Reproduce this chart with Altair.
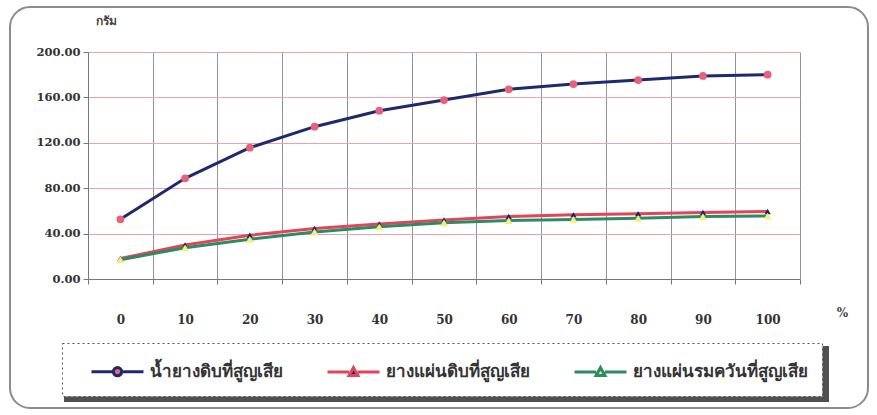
import altair as alt
import pandas as pd

# Loss of rubber (grams) against percentage
percent = ["0", "10", "20", "30", "40", "50", "60", "70", "80", "90", "100"]
latex_loss = [52.6, 88.7, 115.7, 134.2, 148.3, 157.7, 167.1, 171.8, 175.3, 178.9, 180.0]
sheet_loss = [18.0, 30.0, 38.5, 44.5, 48.5, 52.0, 55.0, 56.5, 57.5, 58.5, 59.5]
smoked_loss = [17.0, 27.5, 35.0, 41.5, 46.0, 49.5, 51.5, 52.5, 53.5, 55.0, 55.5]

series_names = ["น้ำยางดิบที่สูญเสีย", "ยางแผ่นดิบที่สูญเสีย", "ยางแผ่นรมควันที่สูญเสีย"]
line_colors = ["#1f2a6e", "#e0465a", "#2e8a62"]
marker_colors = ["#e8607a", "#1c2266", "#f2f07a"]
marker_shapes = ["circle", "triangle-up", "triangle-up"]
marker_sizes = [60, 40, 60]

# legend glyphs: a line segment twice the symbol box wide, marker in the middle
legend_paths = [
    "M-2,0H-0.32M0.32,0H2M0.32,0A0.32,0.32,0,1,1,-0.32,0A0.32,0.32,0,1,1,0.32,0Z",
    "M-2,0H-0.34M0.34,0H2M0,-0.34L0.34,0.26L-0.34,0.26Z",
    "M-2,0H-0.34M0.34,0H2M0,-0.34L0.34,0.26L-0.34,0.26Z",
]

rows = []
for name, values in zip(series_names, [latex_loss, sheet_loss, smoked_loss]):
    for p, v in zip(percent, values):
        rows.append({"pct": p, "series": name, "value": v})
df = pd.DataFrame(rows)
one = pd.DataFrame({"k": [0]})

NUM_FONT = "DejaVu Serif"
THAI_FONT = "Noto Sans"

x_enc = alt.X(
    "pct:O",
    scale=alt.Scale(type="band", domain=percent, paddingInner=0, paddingOuter=0),
    bandPosition=0.5,
    axis=alt.Axis(
        title="%", titleX=754, titleY=28, titleAngle=0, titleFont=NUM_FONT,
        titleFontSize=12, titleFontWeight="bold", titleColor="#444",
        labelAngle=0, labelPadding=30, labelFont=NUM_FONT, labelFontSize=12,
        labelFontWeight="bold", labelColor="#333",
        tickBand="extent", tickSize=5, tickColor="#777",
        domainColor="#777", grid=True, gridColor="#737988", gridWidth=1,
        gridOpacity=0.8,
    ),
)
y_enc = alt.Y(
    "value:Q",
    scale=alt.Scale(domain=[0, 200], nice=False),
    axis=alt.Axis(
        values=[0, 40, 80, 120, 160, 200], format=".2f",
        title="กรัม", titleAngle=0, titleX=18, titleY=-25, titleFont=THAI_FONT,
        titleFontSize=12, titleFontWeight="bold", titleColor="#444",
        labelFont=NUM_FONT, labelFontSize=11.5, labelFontWeight="bold",
        labelColor="#333", labelPadding=3, tickSize=5, tickColor="#777",
        domainColor="#777", grid=True, gridColor="#eba2ad", gridWidth=1,
    ),
)

# outer rounded frame and the legend box shadow
frame = alt.Chart(one).mark_rect(
    fill="white", fillOpacity=0, stroke="#8c8c8c", strokeWidth=2, cornerRadius=20
).encode(x=alt.value(-78), x2=alt.value(780), y=alt.value(-45), y2=alt.value(356))

shadow = alt.Chart(one).mark_rect(fill="#505050").encode(
    x=alt.value(-24), x2=alt.value(741), y=alt.value(294), y2=alt.value(350)
)

base = alt.Chart(df)

legend = alt.Legend(
    orient="none", legendX=-26, legendY=291, direction="horizontal", columns=3,
    title=None, symbolSize=676, symbolStrokeWidth=3, symbolOpacity=1,
    symbolOffset=27, labelOffset=18,
    labelFont=THAI_FONT, labelFontSize=17, labelFontWeight="bold",
    labelColor="#333", labelLimit=300, columnPadding=29, padding=14,
    fillColor="white", zindex=2,
)
legend_layer = base.mark_point(filled=True, opacity=0).encode(
    x=x_enc, y=y_enc,
    shape=alt.Shape("series:N", scale=alt.Scale(domain=series_names, range=legend_paths), legend=legend),
    fill=alt.Fill("series:N", scale=alt.Scale(domain=series_names, range=marker_colors), legend=legend),
    stroke=alt.Stroke("series:N", scale=alt.Scale(domain=series_names, range=line_colors), legend=legend),
)

layers = [frame, shadow, legend_layer]
for name, lc, mc, ms, sz in zip(series_names, line_colors, marker_colors, marker_shapes, marker_sizes):
    sub = base.transform_filter(alt.datum.series == name)
    layers.append(sub.mark_line(color=lc, strokeWidth=3).encode(x=x_enc, y=y_enc))
    layers.append(
        sub.mark_point(shape=ms, filled=True, fill=mc, opacity=1, size=sz).encode(x=x_enc, y=y_enc)
    )

chart = alt.layer(*layers).properties(
    width=712, height=227,
    autosize=alt.AutoSizeParams(type="none"),
    padding={"left": 88, "top": 52, "right": 77, "bottom": 136},
    background="white",
).configure_view(stroke=None).configure_legend(
    strokeColor="#555", strokeDash=[2, 3]
)

chart.save("out.html", embed_options={"renderer": "svg", "actions": False})
